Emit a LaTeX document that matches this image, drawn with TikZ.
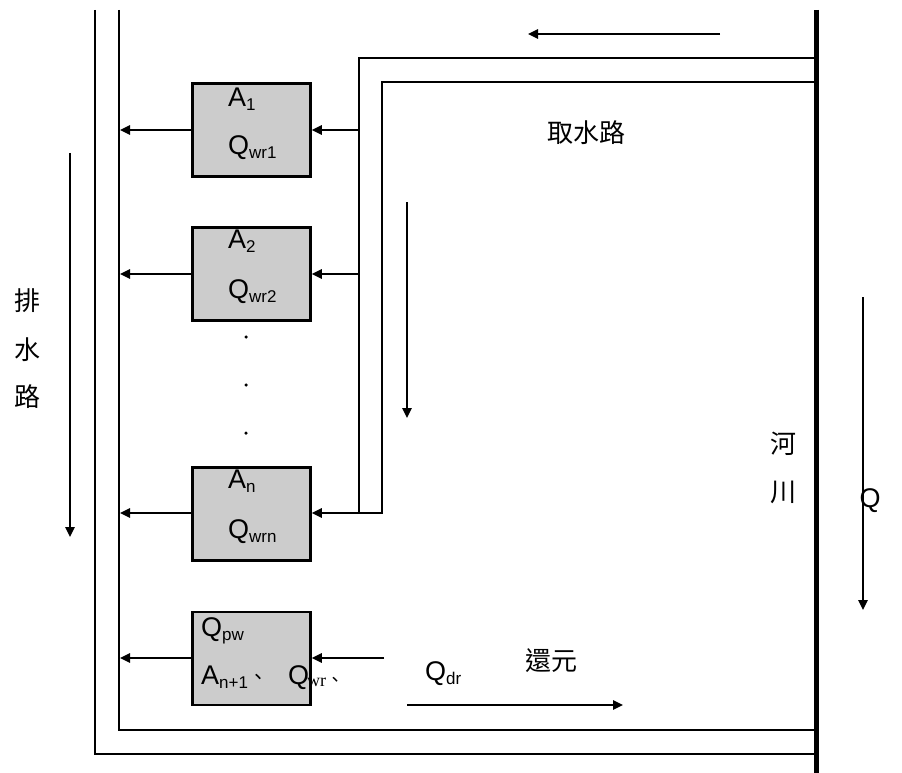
\documentclass[tikz,border=0pt]{standalone}
\usepackage{fontspec}
\setmainfont{Liberation Sans}
\newfontfamily\cjk{Noto Sans CJK TC}
\newfontfamily\serifx{Liberation Serif}
\usetikzlibrary{arrows.meta}
\definecolor{boxgray}{RGB}{204,204,204}
\newcommand\lsub[1]{\raisebox{-4pt}{\fontsize{17}{17}\selectfont #1}}
\tikzset{
  chan/.style={line width=2.3pt, line join=miter},
  riverline/.style={line width=5pt},
  arr/.style={line width=1.6pt, -{Triangle[length=10pt,width=9.5pt]}},
  procbox/.style={draw, line width=2.8pt, fill=boxgray, minimum width=118pt, minimum height=93pt, inner sep=0pt},
  lbl/.style={inner sep=0pt, anchor=base west, font=\fontsize{27}{30}\selectfont},
  cjklbl/.style={inner sep=0pt, font=\fontsize{26}{30}\selectfont\cjk},
  dotmark/.style={circle, fill=black, inner sep=0pt, minimum size=3.5pt}
}
\begin{document}
\begin{tikzpicture}[x=1pt,y=-1pt]
\useasboundingbox (0,0) rectangle (902,773);
% river
\draw[riverline] (816,10) -- (816,773);
% drainage channel
\draw[chan] (95,10) -- (95,754) -- (814,754);
\draw[chan] (119,10) -- (119,730) -- (814,730);
% intake channel
\draw[chan] (814,58) -- (359,58) -- (359,513) -- (382,513) -- (382,82) -- (814,82);
% coordinates
\coordinate (d1) at (120,130);
\coordinate (d2) at (120,274);
\coordinate (d3) at (120,513);
\coordinate (d4) at (120,658);
\coordinate (i1) at (359,130);
\coordinate (i2) at (359,274);
\coordinate (i3) at (359,513);
\coordinate (i4) at (384,658);
% boxes
\node[procbox] (b1) at (251.5,130) {};
\node[procbox] (b2) at (251.5,274) {};
\node[procbox] (b3) at (251.5,514) {};
\node[procbox] (b4) at (251.5,658.5) {};
% arrows
\draw[arr] (b1.west) -- (d1);
\draw[arr] (b2.west) -- (d2);
\draw[arr] (b3.west |- d3) -- (d3);
\draw[arr] (b4.west |- d4) -- (d4);
\draw[arr] (i1) -- (b1.east |- i1);
\draw[arr] (i2) -- (b2.east |- i2);
\draw[arr] (i3) -- (b3.east |- i3);
\draw[arr] (i4) -- (b4.east |- i4);
% flow arrows
\coordinate (ta1) at (720,34); \coordinate (ta2) at (528,34);
\draw[arr] (ta1) -- (ta2);
\coordinate (ma1) at (407,202); \coordinate (ma2) at (407,418);
\draw[arr] (ma1) -- (ma2);
\coordinate (la1) at (70,153); \coordinate (la2) at (70,537);
\draw[arr] (la1) -- (la2);
\coordinate (qa1) at (863,297); \coordinate (qa2) at (863,610);
\draw[arr] (qa1) -- (qa2);
\coordinate (ra1) at (407,705); \coordinate (ra2) at (623,705);
\draw[arr] (ra1) -- (ra2);
% box texts
\node[lbl] (t1a) at (228,107) {A\lsub{1}};
\node[lbl] (t1q) at (228,154) {Q\lsub{wr1}};
\node[lbl] (t2a) at (228,248) {A\lsub{2}};
\node[lbl] (t2q) at (228,298) {Q\lsub{wr2}};
\node[lbl] (t3a) at (228,488) {A\lsub{n}};
\node[lbl] (t3q) at (228,538) {Q\lsub{wrn}};
\node[lbl] (t4a) at (201,636) {Q\lsub{pw}};
\node[lbl] (t4b) at (201,684) {A\lsub{n+1}{\cjk\fontsize{20}{20}\selectfont 、}};
\node[lbl] (t4c) at (288,684) {Q};
\node[inner sep=0pt, anchor=base west, font=\fontsize{18}{18}\selectfont\serifx] (t4d) at (307,686) {wr{\cjk 、}};
% dots
\node[dotmark] (p1) at (246,337) {};
\node[dotmark] (p2) at (246,385) {};
\node[dotmark] (p3) at (246,433) {};
% labels
\node[cjklbl] (intake) at (586,133) {取水路};
\node[cjklbl] (dr1) at (27,301) {排};
\node[cjklbl] (dr2) at (27,350) {水};
\node[cjklbl] (dr3) at (27,397) {路};
\node[cjklbl] (rv1) at (783,444) {河};
\node[cjklbl] (rv2) at (783,492) {川};
\node[cjklbl] (ret) at (551,661) {還元};
\node[lbl] (qdr) at (425,680) {Q\lsub{dr}};
\node[inner sep=0pt, font=\fontsize{27}{30}\selectfont] (qq) at (870,501) {Q};
\end{tikzpicture}
\end{document}
